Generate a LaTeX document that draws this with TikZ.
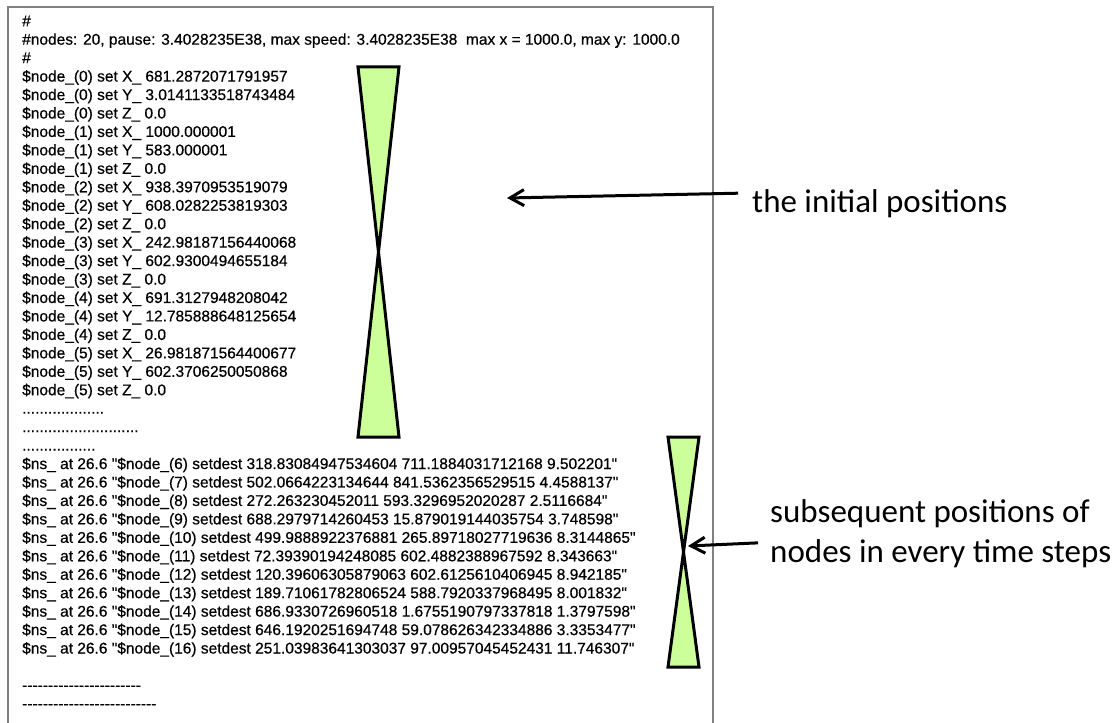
\documentclass[tikz,border=0pt]{standalone}
\usepackage{fontspec}
\setmainfont{Liberation Sans}
\newfontfamily\listfont{Liberation Sans}[FakeBold=0.5]
\newfontfamily\notefont{Carlito}
\usepackage{tikz}
\usetikzlibrary{arrows.meta}
\definecolor{sheetGray}{HTML}{808080}
\definecolor{glassGreen}{HTML}{CCFF99}
\newcommand{\dotrow}[1]{\foreach \k in {1,...,#1}{.}}
\newcommand{\dashrow}[1]{\foreach \k in {1,...,#1}{-}}

\begin{document}
\begin{tikzpicture}[
  x=1pt, y=-1pt,
  listing/.style={inner sep=0pt, align=left, anchor=north west, font=\listfont\fontsize{15.5}{18.45}\selectfont},
  note/.style={inner sep=0pt, align=left, anchor=north west, font=\notefont\fontsize{33}{40}\selectfont},
  sheet/.style={draw=sheetGray, line width=2pt},
  glass/.style={draw=black, fill=glassGreen, line width=3pt},
  pointer/.style={-{Straight Barb[length=14pt,width=16pt]}, line width=3pt}
]
  \useasboundingbox (0,0) rectangle (1115,722);
  \draw[sheet] (8,740) -- (8,7) -- (713,7) -- (713,740);

  \node[listing] (trace) at (22,13.1) {\strut\#\\
    \#nodes: 20, pause: 3.4028235E38, max speed: 3.4028235E38\ \ max x = 1000.0, max y: 1000.0\\
    \#\\
    \$node\_(0) set X\_ 681.2872071791957\\
    \$node\_(0) set Y\_ 3.0141133518743484\\
    \$node\_(0) set Z\_ 0.0\\
    \$node\_(1) set X\_ 1000.000001\\
    \$node\_(1) set Y\_ 583.000001\\
    \$node\_(1) set Z\_ 0.0\\
    \$node\_(2) set X\_ 938.3970953519079\\
    \$node\_(2) set Y\_ 608.0282253819303\\
    \$node\_(2) set Z\_ 0.0\\
    \$node\_(3) set X\_ 242.98187156440068\\
    \$node\_(3) set Y\_ 602.9300494655184\\
    \$node\_(3) set Z\_ 0.0\\
    \$node\_(4) set X\_ 691.3127948208042\\
    \$node\_(4) set Y\_ 12.785888648125654\\
    \$node\_(4) set Z\_ 0.0\\
    \$node\_(5) set X\_ 26.981871564400677\\
    \$node\_(5) set Y\_ 602.3706250050868\\
    \$node\_(5) set Z\_ 0.0\\
    \dotrow{19}\\
    \dotrow{27}\\
    \dotrow{17}\\
    \$ns\_ at 26.6 "\$node\_(6) setdest 318.83084947534604 711.1884031712168 9.502201"\\
    \$ns\_ at 26.6 "\$node\_(7) setdest 502.0664223134644 841.5362356529515 4.4588137"\\
    \$ns\_ at 26.6 "\$node\_(8) setdest 272.263230452011 593.3296952020287 2.5116684"\\
    \$ns\_ at 26.6 "\$node\_(9) setdest 688.2979714260453 15.879019144035754 3.748598"\\
    \$ns\_ at 26.6 "\$node\_(10) setdest 499.9888922376881 265.89718027719636 8.3144865"\\
    \$ns\_ at 26.6 "\$node\_(11) setdest 72.39390194248085 602.4882388967592 8.343663"\\
    \$ns\_ at 26.6 "\$node\_(12) setdest 120.39606305879063 602.6125610406945 8.942185"\\
    \$ns\_ at 26.6 "\$node\_(13) setdest 189.71061782806524 588.7920337968495 8.001832"\\
    \$ns\_ at 26.6 "\$node\_(14) setdest 686.9330726960518 1.6755190797337818 1.3797598"\\
    \$ns\_ at 26.6 "\$node\_(15) setdest 646.1920251694748 59.078626342334886 3.3353477"\\
    \$ns\_ at 26.6 "\$node\_(16) setdest 251.03983641303037 97.00957045452431 11.746307"\\[18.45pt]
    \dashrow{23}\\
    \dashrow{26}};

  \foreach \l/\r/\t/\b in {358/399/67/437, 668/699/437/667} {
    \draw[glass] (\l,\t) -- (\r,\t) -- (\l,\b) -- (\r,\b) -- cycle;
  }

  \node[note] (initial) at (752,184) {\strut the initial positions};
  \node[note] (later) at (770,494) {\strut subsequent positions of\\nodes in every time steps};

  \coordinate (initTip) at (507,198);
  \coordinate (laterTip) at (688,546);
  \draw[pointer] ([xshift=-14pt,yshift=11pt]initial.west) -- (initTip);
  \draw[pointer] ([xshift=-12pt,yshift=-12pt]later.west) -- (laterTip);
\end{tikzpicture}
\end{document}
